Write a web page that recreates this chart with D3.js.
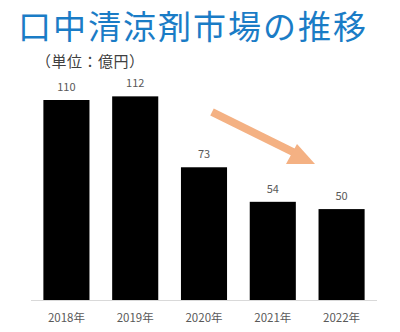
<!DOCTYPE html>
<html><head><meta charset="utf-8">
<script src="https://cdn.jsdelivr.net/npm/d3@7"></script>
<style>body{margin:0;background:#fff;}svg{display:block;}</style>
</head><body>
<script>
const categories = ["2018年","2019年","2020年","2021年","2022年"];
const values = [110,112,73,54,50];
const titleText = "口中清涼剤市場の推移";
const unitText = "（単位：億円）";

const W = 400, H = 332;
const svg = d3.select("body").append("svg").attr("width", W).attr("height", H);
const font = "'Noto Sans CJK JP','Noto Sans',sans-serif";

const x = d3.scaleBand().domain(categories).range([31, 377]).paddingInner(0.33).paddingOuter(0.18);
const y = d3.scaleLinear().domain([0, 165]).range([300, 0]);

svg.append("text").attr("x", 18).attr("y", 39).attr("font-family", font)
  .attr("font-size", 33).attr("letter-spacing", 2).attr("fill", "#1a7cc6").text(titleText);
svg.append("text").attr("x", 36).attr("y", 67).attr("font-family", font)
  .attr("font-size", 15).attr("letter-spacing", 0.5).attr("fill", "#404040").text(unitText);

svg.selectAll("rect.bar").data(values).join("rect").attr("class","bar")
  .attr("x", (d,i) => x(categories[i])).attr("width", x.bandwidth())
  .attr("y", d => y(d)).attr("height", d => y(0) - y(d)).attr("fill", "#000");

svg.selectAll("text.lbl").data(values).join("text").attr("class","lbl")
  .attr("x", (d,i) => x(categories[i]) + x.bandwidth()/2)
  .attr("y", d => y(d) - 9).attr("text-anchor","middle")
  .attr("font-family", font).attr("font-size", 11).attr("fill", "#595959").text(d => d);

const ax = svg.append("g").attr("transform", "translate(0,300)")
  .call(d3.axisBottom(x).tickSize(0).tickPadding(14));
ax.select(".domain").attr("stroke", "#d9d9d9").attr("d", "M31,0.5H377");
ax.selectAll("text").attr("font-family", font).attr("font-size", 11.5).attr("fill", "#595959");

// trend arrow
svg.append("line").attr("x1", 212).attr("y1", 112).attr("x2", 295).attr("y2", 153)
  .attr("stroke", "#f4b183").attr("stroke-width", 8);
svg.append("path").attr("d", "M315,164 L297,144 L286,164 Z").attr("fill", "#f4b183");
</script>
</body></html>
